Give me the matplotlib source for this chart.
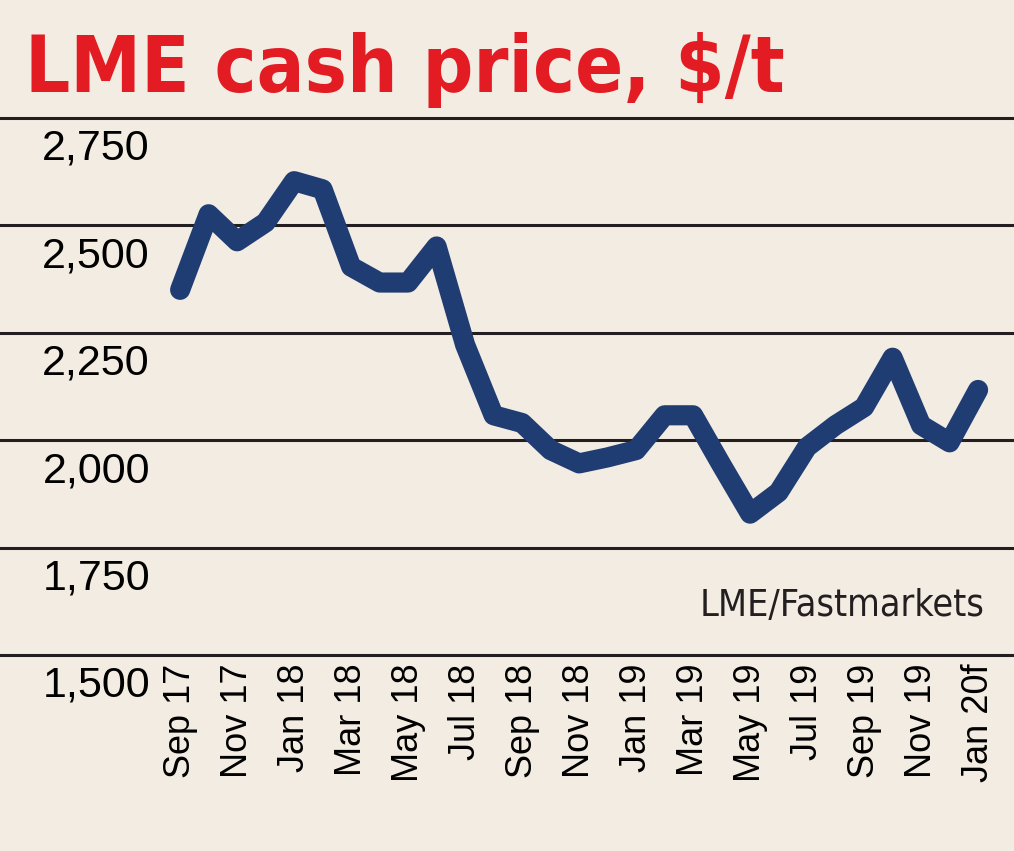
import matplotlib
matplotlib.use("Agg")
import matplotlib.pyplot as plt
from matplotlib import font_manager
from matplotlib.font_manager import FontProperties
from matplotlib.transforms import ScaledTranslation


def condensed(weight="normal"):
    # use a condensed face when one is installed
    for fam in ["Liberation Sans Narrow", "DejaVu Sans"]:
        fp = FontProperties(family=fam, stretch="condensed", weight=weight)
        try:
            path = font_manager.findfont(fp, fallback_to_default=False)
        except ValueError:
            continue
        if "Narrow" in path or "Condensed" in path:
            return fp, True
    return FontProperties(family="Liberation Sans", weight=weight), False


# monthly LME cash price, Sep 2017 - Jan 2020 (forecast)
months = list(range(29))
prices = [2350, 2526, 2463, 2507, 2603, 2584, 2404, 2367, 2367, 2451,
          2222, 2058, 2040, 1977, 1946, 1960, 1977, 2058, 2058, 1942,
          1829, 1879, 1984, 2035, 2077, 2192, 2035, 1995, 2117]

tick_pos = list(range(0, 29, 2))
tick_labels = ["Sep 17", "Nov 17", "Jan 18", "Mar 18", "May 18", "Jul 18",
               "Sep 18", "Nov 18", "Jan 19", "Mar 19", "May 19", "Jul 19",
               "Sep 19", "Nov 19", "Jan 20f"]
y_ticks = [1500, 1750, 2000, 2250, 2500, 2750]
y_labels = ["1,500", "1,750", "2,000", "2,250", "2,500", "2,750"]

bg = "#f3ece2"
fig = plt.figure(figsize=(10.14, 8.51), dpi=100, facecolor=bg)
ax = fig.add_axes([0, 1 - 655/851, 1, (655-118)/851])
ax.set_facecolor(bg)

ax.plot(months, prices, color="#1f3c73", lw=14.5, solid_joinstyle="round",
        solid_capstyle="round", zorder=3)

ax.set_xlim(-6.32, 29.26)
ax.set_ylim(1500, 2750)
for s in ax.spines.values():
    s.set_visible(False)

ax.set_yticks(y_ticks)
ax.set_yticklabels(y_labels, fontsize=31, family="Liberation Sans")
ax.tick_params(axis="y", length=0, pad=-108)
off = ScaledTranslation(0, -0.31, fig.dpi_scale_trans)
for lab in ax.get_yticklabels():
    lab.set_transform(lab.get_transform() + off)
    lab.set_verticalalignment("center")

ax.set_xticks(tick_pos)
ax.set_xticklabels(tick_labels, rotation=90, fontsize=26, family="Liberation Sans",
                   va="top", ha="center")
ax.tick_params(axis="x", length=0, pad=6)

ax.grid(True, axis="y", color="#231f20", lw=2.2)
ax.grid(False, axis="x")
for gl in ax.get_ygridlines():
    gl.set_clip_on(False)
ax.set_axisbelow(True)

src_fp, src_narrow = condensed()
src_fp.set_size(27 if src_narrow else 25)
ax.text(0.971, 1615, "LME/Fastmarkets", transform=ax.get_yaxis_transform(),
        ha="right", va="center", fontproperties=src_fp, color="#231f20")

title_fp, title_narrow = condensed("bold")
title_fp.set_size(57 if title_narrow else 60)
fig.text(0.025, 1 - 92/851, r"LME cash price, \$/t", fontproperties=title_fp,
         color="#e31b23", va="baseline", ha="left")

fig.savefig("out.png", dpi=100, facecolor=bg)
